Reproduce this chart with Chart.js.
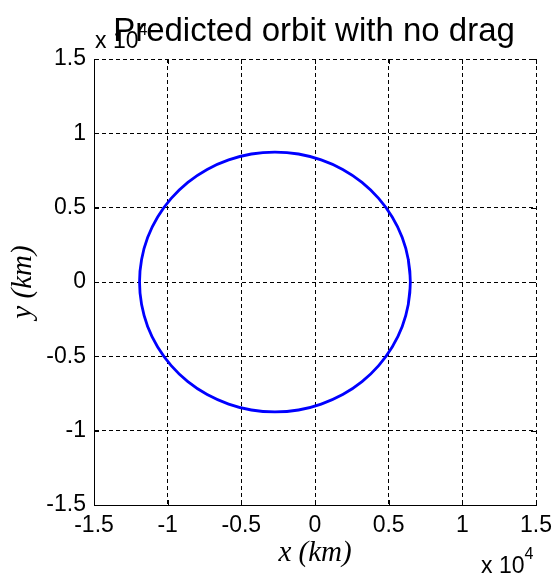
<!DOCTYPE html>
<html>
<head>
<meta charset="utf-8">
<script src="https://cdn.jsdelivr.net/npm/chart.js@4/dist/chart.umd.min.js"></script>
<style>
  html, body { margin: 0; padding: 0; background: #fff; }
</style>
</head>
<body>
<canvas id="orbitChart" width="559" height="576"></canvas>
<script>
// orbit points (km), first and last points overlap to close the loop smoothly
const orbitX = [6330, 6470, 6330, 5920, 5240, 4320, 3190, 1880, 420, -1120, -2720,
  -4320, -5860, -7320, -8630, -9760, -10680, -11360, -11770, -11910,
  -11770, -11360, -10680, -9760, -8630, -7320, -5860, -4320, -2720,
  -1120, 420, 1880, 3190, 4320, 5240, 5920, 6330, 6470, 6330];
const orbitY = [-1520, 0, 1520, 2990, 4370, 5620, 6700, 7570, 8210, 8610, 8740,
  8610, 8210, 7570, 6700, 5620, 4370, 2990, 1520, 0,
  -1520, -2990, -4370, -5620, -6700, -7570, -8210, -8610, -8740,
  -8610, -8210, -7570, -6700, -5620, -4370, -2990, -1520, 0, 1520];

const tickValues = [-15000, -10000, -5000, 0, 5000, 10000, 15000];
const tickLabels = ['-1.5', '-1', '-0.5', '0', '0.5', '1', '1.5'];

const sansFont = '"Liberation Sans", Arial, sans-serif';
const serifFont = '"Liberation Serif", "Times New Roman", serif';

// title, exponent labels and inward tick marks, matlab style
const annotate = {
  id: 'annotate',
  afterDraw(chart) {
    const { ctx, chartArea: a, scales: { x, y } } = chart;
    ctx.save();
    ctx.strokeStyle = '#000';
    ctx.lineWidth = 1;
    ctx.beginPath();
    tickValues.forEach(v => {
      const px = Math.round(x.getPixelForValue(v)) + 0.5;
      ctx.moveTo(px, a.bottom); ctx.lineTo(px, a.bottom - 5);
      ctx.moveTo(px, a.top); ctx.lineTo(px, a.top + 5);
      const py = Math.round(y.getPixelForValue(v)) + 0.5;
      ctx.moveTo(a.left, py); ctx.lineTo(a.left + 5, py);
      ctx.moveTo(a.right, py); ctx.lineTo(a.right - 5, py);
    });
    ctx.stroke();

    ctx.fillStyle = '#000';
    ctx.textBaseline = 'alphabetic';
    ctx.textAlign = 'left';
    ctx.font = '23px ' + sansFont;
    ctx.fillText('x 10', a.left + 1, 48);
    let w = ctx.measureText('x 10').width;
    ctx.font = '16px ' + sansFont;
    ctx.fillText('4', a.left + 1 + w, 35);

    ctx.font = '23px ' + sansFont;
    ctx.fillText('x 10', 481, 573);
    w = ctx.measureText('x 10').width;
    ctx.font = '16px ' + sansFont;
    ctx.fillText('4', 481 + w, 559);

    ctx.font = '33px ' + sansFont;
    ctx.textAlign = 'center';
    ctx.fillText('Predicted orbit with no drag', 314, 41);
    ctx.restore();
  }
};

function axisOptions(titleText, titlePad) {
  return {
    type: 'linear',
    min: -15000,
    max: 15000,
    afterBuildTicks: scale => { scale.ticks = tickValues.map(v => ({ value: v })); },
    ticks: {
      color: '#000',
      font: { family: sansFont, size: 23 },
      padding: 7,
      maxRotation: 0,
      autoSkip: false,
      callback: (value, i) => tickLabels[i]
    },
    grid: { color: '#000', lineWidth: 1, drawTicks: false },
    border: { display: true, color: '#000', width: 1, dash: [4, 3] },
    title: {
      display: true,
      text: titleText,
      color: '#000',
      font: { family: serifFont, size: 29, style: 'italic' },
      padding: titlePad
    }
  };
}

const xAxis = axisOptions('x (km)', { top: 0, bottom: 5 });
xAxis.position = 'bottom';
xAxis.afterFit = scale => { scale.height = 71; };

const yAxis = axisOptions('y (km)', { top: 6, bottom: 0 });
yAxis.position = 'left';
yAxis.ticks.padding = 8;
yAxis.afterFit = scale => { scale.width = 94; };

new Chart(document.getElementById('orbitChart').getContext('2d'), {
  type: 'scatter',
  data: {
    datasets: [{
      data: orbitX.map((v, i) => ({ x: v, y: orbitY[i] })),
      showLine: true,
      borderColor: '#0000ff',
      borderWidth: 2.8,
      pointRadius: 0,
      tension: 0.4,
      fill: false
    }]
  },
  options: {
    responsive: false,
    animation: false,
    layout: { padding: { top: 59, right: 19, bottom: 0, left: 0 } },
    plugins: { legend: { display: false }, tooltip: { enabled: false } },
    scales: { x: xAxis, y: yAxis }
  },
  plugins: [annotate]
});
</script>
</body>
</html>
